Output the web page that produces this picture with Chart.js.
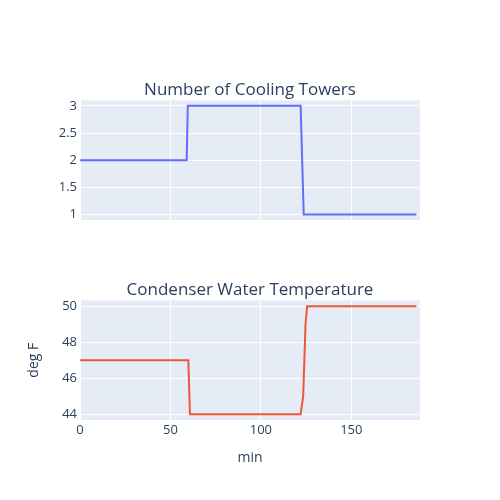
<!DOCTYPE html>
<html lang="en">
  <head>
    <meta charset="UTF-8" />
    <title>Cooling Towers and Condenser Water</title>
    <script src="https://cdn.jsdelivr.net/npm/chart.js"></script>
    <style>
      body {
        margin: 0;
        background: #fff;
      }
      .wrap {
        position: relative;
        width: 500px;
        height: 500px;
      }
      canvas {
        position: absolute;
        left: 0;
      }
      #towerChart {
        top: 0;
      }
      #tempChart {
        top: 240px;
      }
    </style>
  </head>
  <body>
    <div class="wrap">
      <canvas id="towerChart" width="500" height="240"></canvas>
      <canvas id="tempChart" width="500" height="260"></canvas>
    </div>

    <script>
      // Values
      const towerMinutes = [0, 59, 59.6, 122, 123.7, 186];
      const towerCount = [2, 2, 3, 3, 1, 1];
      const tempMinutes = [0, 59.9, 60.8, 122, 123.4, 124.7, 125.6, 186];
      const tempDegF = [47, 47, 44, 44, 45, 49, 50, 50];

      // Tick labels
      const minuteTicks = [0, 50, 100, 150];
      const towerTicks = [1, 1.5, 2, 2.5, 3];
      const tempTicks = [44, 46, 48, 50];

      const textColor = '#2a3f5f';
      const fontFamily = '"Open Sans", verdana, arial, sans-serif';

      // Grey plot background behind the grid
      const plotBg = {
        id: 'plotBg',
        beforeDraw(chart) {
          const { ctx, chartArea: a } = chart;
          ctx.save();
          ctx.fillStyle = '#e5ecf6';
          ctx.fillRect(a.left, a.top, a.right - a.left, a.bottom - a.top);
          ctx.restore();
        },
      };

      function pairs(xs, ys) {
        return xs.map((x, i) => ({ x: x, y: ys[i] }));
      }

      function fixedTicks(values) {
        return (scale) => {
          scale.ticks = values.map((v) => ({ value: v }));
        };
      }

      function makeChart(id, cfg) {
        const ctx = document.getElementById(id).getContext('2d');
        return new Chart(ctx, {
          type: 'line',
          data: {
            datasets: [
              {
                data: pairs(cfg.xs, cfg.ys),
                borderColor: cfg.color,
                borderWidth: 2,
                pointRadius: 0,
                tension: 0,
                fill: false,
              },
            ],
          },
          options: {
            responsive: false,
            animation: false,
            layout: { padding: { left: 0, right: 0, top: 0, bottom: cfg.padBottom } },
            plugins: {
              legend: { display: false },
              tooltip: { enabled: false },
              title: {
                display: true,
                text: cfg.title,
                color: textColor,
                font: { family: fontFamily, size: 17, weight: 'normal', lineHeight: 1.2 },
                padding: { top: cfg.titleTop, bottom: cfg.titleBottom },
              },
            },
            scales: {
              x: {
                type: 'linear',
                min: 0,
                max: 188,
                afterBuildTicks: fixedTicks(minuteTicks),
                afterFit: (s) => {
                  s.height = cfg.xHeight;
                },
                grid: { color: '#ffffff', lineWidth: 1, drawTicks: false },
                border: { display: false },
                ticks: {
                  display: cfg.showX,
                  color: textColor,
                  padding: 2,
                  font: { family: fontFamily, size: 13 },
                  callback: (v) => String(v),
                },
                title: {
                  display: cfg.showX,
                  text: 'min',
                  color: textColor,
                  font: { family: fontFamily, size: 14 },
                  padding: { top: 0, bottom: 34 },
                },
              },
              y: {
                min: cfg.yMin,
                max: cfg.yMax,
                afterBuildTicks: fixedTicks(cfg.yTicks),
                afterFit: (s) => {
                  s.width = 80;
                },
                grid: { color: '#ffffff', lineWidth: 1, drawTicks: false },
                border: { display: false },
                ticks: {
                  color: textColor,
                  padding: 3,
                  font: { family: fontFamily, size: 13 },
                  callback: (v) => String(v),
                },
                title: {
                  display: !!cfg.yTitle,
                  text: cfg.yTitle || '',
                  color: textColor,
                  font: { family: fontFamily, size: 14 },
                  padding: { top: 26, bottom: 0 },
                },
              },
              // empty margin on the right so the title centres over the plot
              margin: {
                position: 'right',
                min: 0,
                max: 1,
                afterFit: (s) => {
                  s.width = 80;
                },
                grid: { display: false },
                border: { display: false },
                ticks: { display: false },
              },
            },
          },
          plugins: [plotBg],
        });
      }

      makeChart('towerChart', {
        title: 'Number of Cooling Towers',
        xs: towerMinutes,
        ys: towerCount,
        color: '#636efa',
        yMin: 0.9,
        yMax: 3.1,
        yTicks: towerTicks,
        showX: false,
        xHeight: 0,
        padBottom: 20,
        titleTop: 79.8,
        titleBottom: 0.2,
      });

      makeChart('tempChart', {
        title: 'Condenser Water Temperature',
        xs: tempMinutes,
        ys: tempDegF,
        color: '#ef553b',
        yMin: 43.68,
        yMax: 50.32,
        yTicks: tempTicks,
        yTitle: 'deg F',
        showX: true,
        xHeight: 80,
        padBottom: 0,
        titleTop: 39.8,
        titleBottom: 0.2,
      });
    </script>
  </body>
</html>
